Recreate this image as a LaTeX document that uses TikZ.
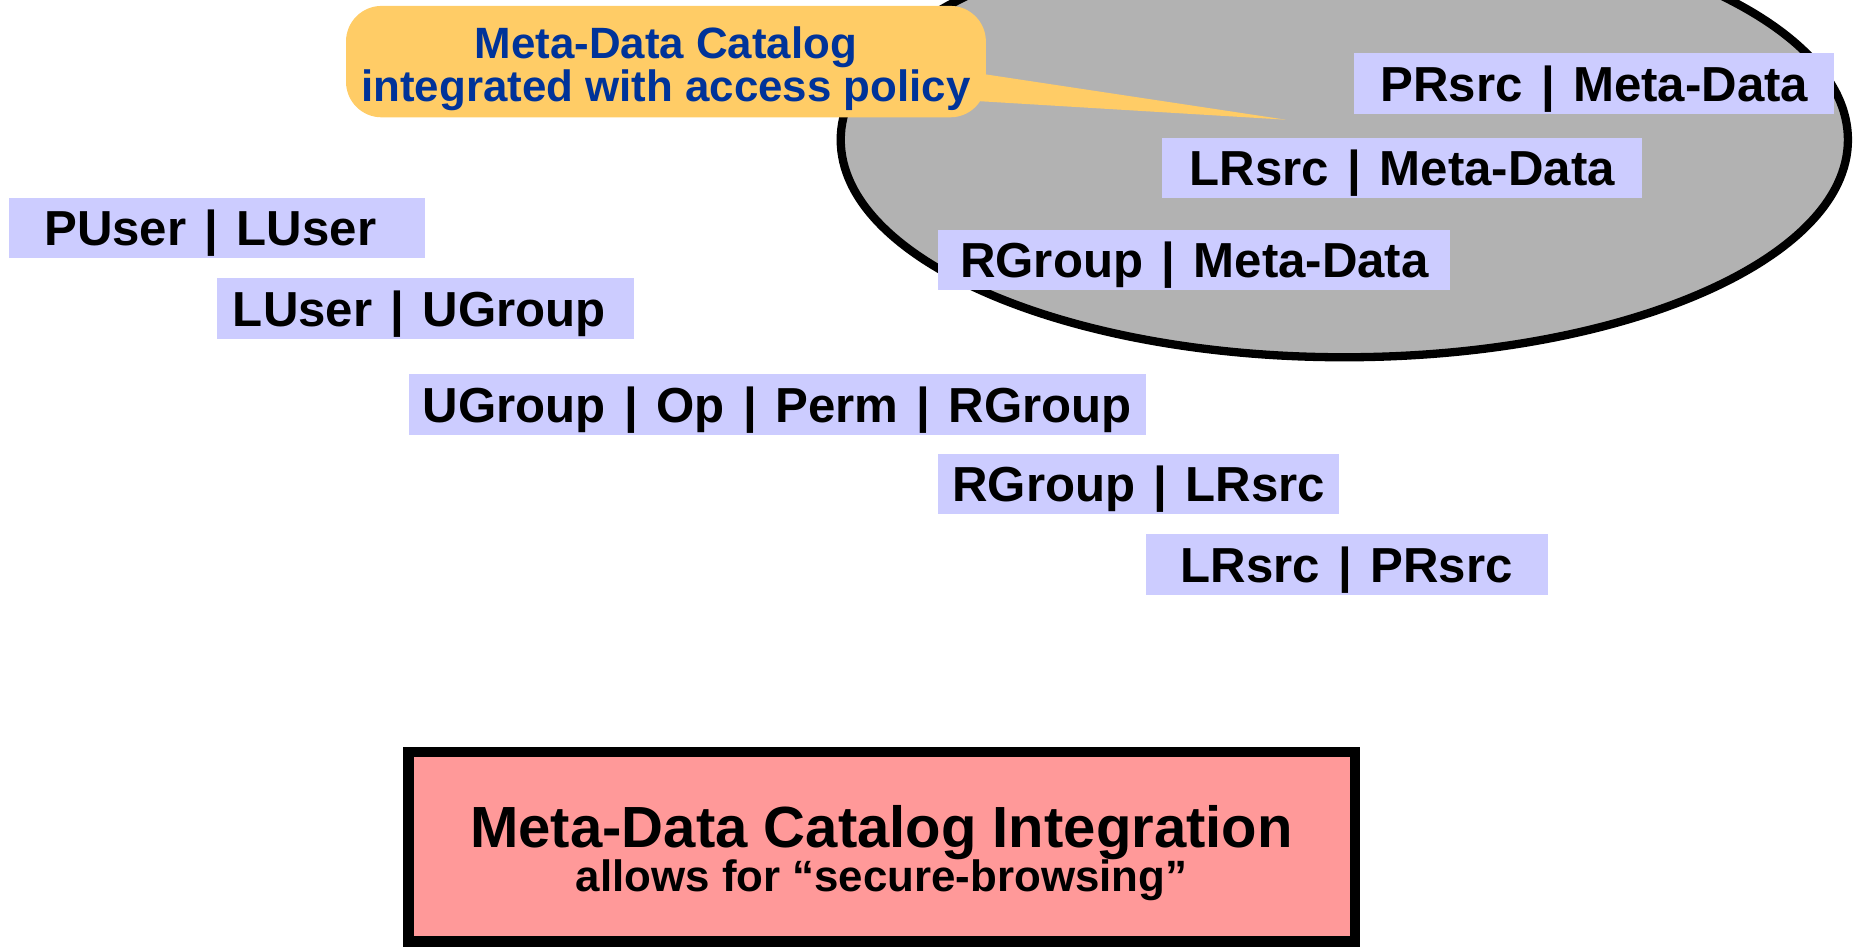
\documentclass[tikz,border=0pt]{standalone}
\usepackage{fontspec}
\setmainfont{Liberation Sans}
\definecolor{catalogGray}{RGB}{178,178,178}
\definecolor{pairFill}{RGB}{204,204,255}
\definecolor{calloutFill}{RGB}{255,204,102}
\definecolor{calloutText}{RGB}{0,51,153}
\definecolor{summaryFill}{RGB}{255,153,153}
% column separator used inside the table labels
\newcommand{\colsep}{\hspace{4pt} | \hspace{4pt}}
\begin{document}
\begin{tikzpicture}[x=1pt,y=1pt,
  pair/.style={fill=pairFill, inner sep=0pt, minimum height=51pt,
    font=\bfseries\fontsize{41.5}{50}\selectfont,
    text height=29.7pt, text depth=0pt},
  callouttext/.style={inner sep=0pt, anchor=base, text=calloutText,
    font=\bfseries\fontsize{37}{40}\selectfont},
  summarytext/.style={inner sep=0pt, anchor=base}]
% page frame
\useasboundingbox (0,0) rectangle (1568,-799);
\clip (0,0) rectangle (1568,-799);

% meta-data catalog
\draw[line width=7pt, fill=catalogGray] (1134.5,-118) ellipse [x radius=425, y radius=183.5];

% callout bubble with its pointer
\fill[calloutFill, rounded corners=30pt] (292,-5) rectangle (832,-99);
\fill[calloutFill] (820,-61) -- (1085,-101) -- (820,-85) -- cycle;
\node[callouttext] (c1) at (562,-49.5) {Meta-Data Catalog};
\node[callouttext] (c2) at (562,-85.5) {integrated with access policy};

% mapping tables
\node[pair, minimum width=405pt] (prmeta) at (1345.5,-70.5) {PRsrc\colsep Meta-Data};
\node[pair, minimum width=405pt] (lrmeta) at (1183.5,-142)  {LRsrc\colsep Meta-Data};
\node[pair, minimum width=432pt] (rgmeta) at (1008,-219.5)  {RGroup\colsep Meta-Data};
\node[pair, minimum width=351pt] (pulu)   at (183.5,-192.5) {PUser\colsep LUser\kern12pt};
\node[pair, minimum width=352pt] (luug)   at (359,-260.5)   {LUser\colsep UGroup\kern10pt};
\node[pair, minimum width=622pt] (policy) at (656,-341.5)   {UGroup\colsep Op\colsep Perm\colsep RGroup};
\node[pair, minimum width=338pt] (rglr)   at (961,-408.5)   {RGroup\colsep LRsrc};
\node[pair, minimum width=339pt] (lrpr)   at (1136.5,-476.5){LRsrc\colsep PRsrc};

% summary box
\draw[line width=9pt, fill=summaryFill] (344.5,-634.5) rectangle (1143.5,-794.5);
\node[summarytext, font=\bfseries\fontsize{49}{55}\selectfont] (s1) at (744,-715.5) {Meta-Data Catalog Integration};
\node[summarytext, font=\bfseries\fontsize{37}{42}\selectfont] (s2) at (744,-752) {allows for “secure-browsing”};
\end{tikzpicture}
\end{document}
